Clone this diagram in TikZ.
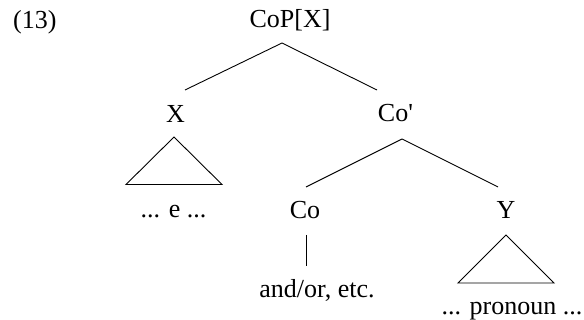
\documentclass[tikz,border=0pt]{standalone}
\usepackage{fontspec}
\setmainfont{Liberation Serif}
\begin{document}
\begin{tikzpicture}[x=1pt,y=-1pt,
  lbl/.style={inner sep=0pt,anchor=base,font=\fontsize{26}{31}\selectfont},
  branch/.style={draw=black,line width=0.9pt},
  tri/.style={draw=black,line width=0.9pt,line join=miter}]
\useasboundingbox (0,0) rectangle (584,320);

% labels
\node[lbl,anchor=base west] (num) at (13,29) {(13)};
\node[lbl] (cop) at (290,28) {CoP[X]};
\node[lbl] (x) at (175.5,123) {X};
\node[lbl] (cobar) at (395.5,122) {Co\textquotesingle};
\node[lbl] (xe) at (173.5,218) {... e ...};
\node[lbl] (co) at (305,219) {Co};
\node[lbl] (y) at (506,219) {Y};
\node[lbl] (conj) at (317,298) {and/or, etc.};
\node[lbl] (pron) at (512,315) {... pronoun ...};

% branch end points
\coordinate (copB) at (282,43);
\coordinate (xT) at (185,90);
\coordinate (cobarT) at (377,90);
\coordinate (cobarB) at (402,139);
\coordinate (coT) at (306,187);
\coordinate (yT) at (498,187);
\coordinate (coB) at (306,235);
\coordinate (conjT) at (306,266);

\draw[branch] (copB) -- (xT);
\draw[branch] (copB) -- (cobarT);
\draw[branch] (cobarB) -- (coT);
\draw[branch] (cobarB) -- (yT);
\draw[branch] (coB) -- (conjT);

% triangles over unanalysed material
\draw[tri] (174,137) -- (126,184.5) -- (222,184.5) -- cycle;
\draw[tri] (506,235) -- (458,283) -- (554,283) -- cycle;
\end{tikzpicture}
\end{document}
